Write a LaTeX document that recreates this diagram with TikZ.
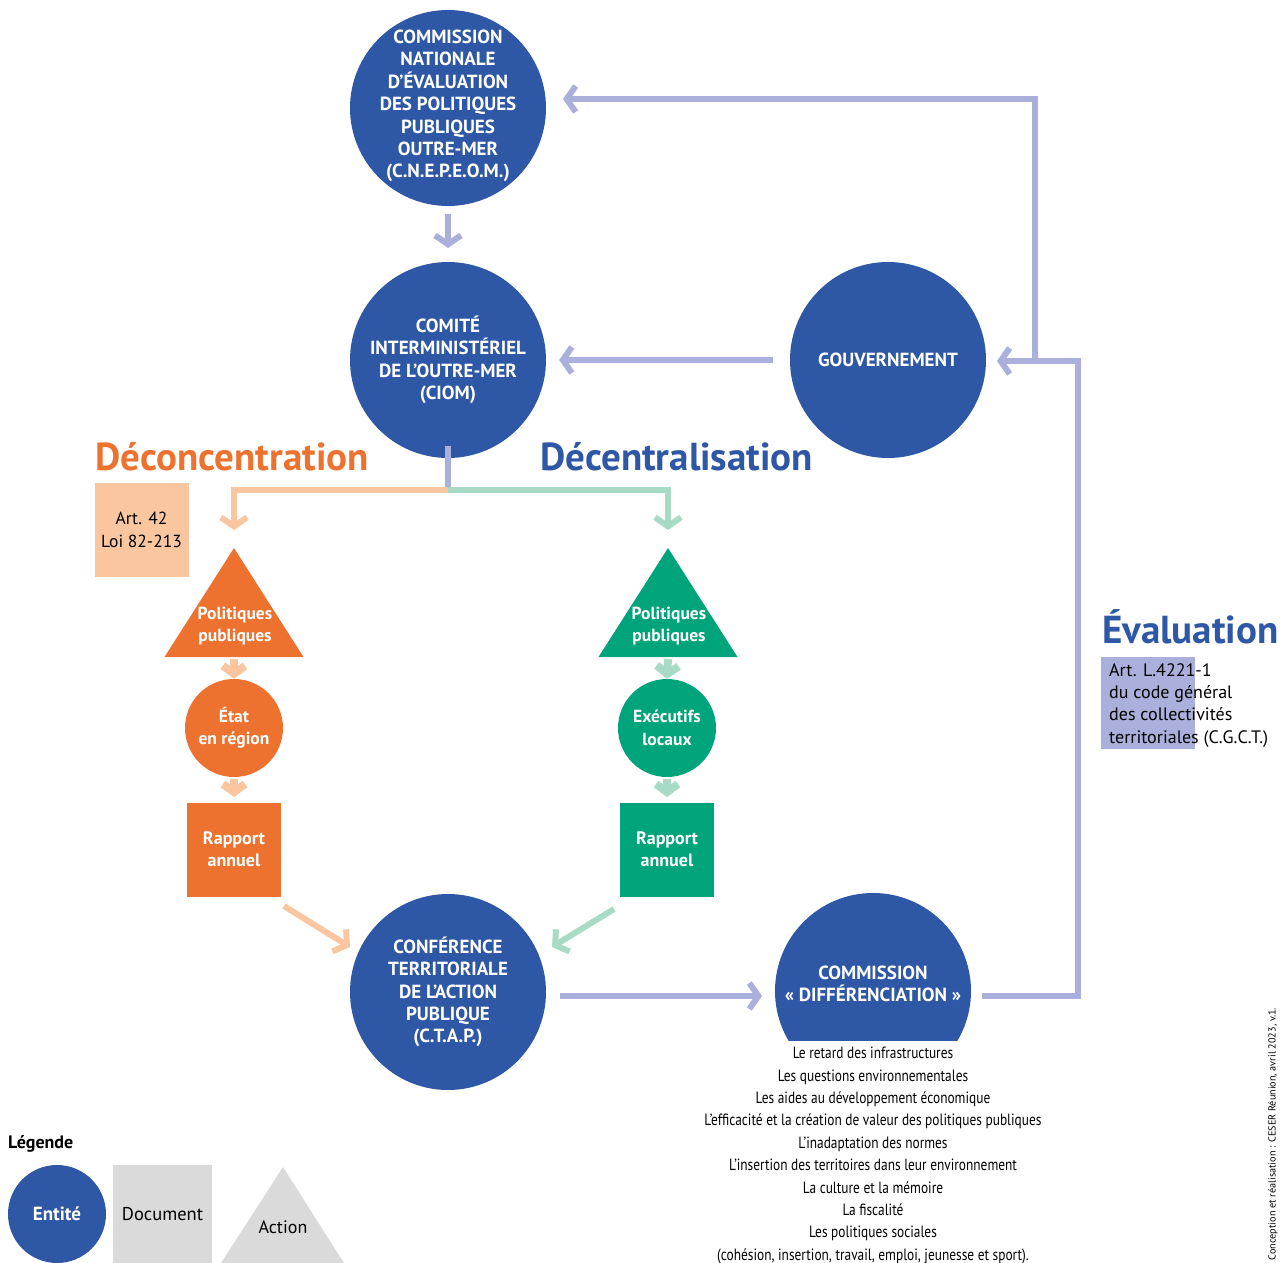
\documentclass[tikz,border=0pt]{standalone}
\usepackage{fontspec}
\setmainfont{PT Sans}
\newfontfamily\condfont[FakeStretch=0.82]{PT Sans}
\usetikzlibrary{arrows.meta}
\definecolor{cblue}{HTML}{2E58A5}
\definecolor{corange}{HTML}{ED7230}
\definecolor{cgreen}{HTML}{00A47A}
\definecolor{lorange}{HTML}{F9C6A0}
\definecolor{lgreen}{HTML}{A7DBC5}
\definecolor{lav}{HTML}{AAB0DB}
\definecolor{lgrey}{HTML}{DADADA}
\begin{document}
\begin{tikzpicture}[x=1pt,y=-1pt,
  entity/.style={circle, fill=cblue, minimum size=196pt, inner sep=0pt, text=white,
    font=\bfseries\fontsize{19}{22.4}\selectfont, align=center},
  ctext/.style={inner sep=0pt, text=white, font=\bfseries\fontsize{19}{22.4}\selectfont, align=center},
  smallent/.style={circle, minimum size=98pt, inner sep=0pt, text=white,
    font=\bfseries\fontsize{17.5}{22.4}\selectfont, align=center},
  docbox/.style={minimum width=94pt, minimum height=94pt, inner sep=0pt, text=white,
    font=\bfseries\fontsize{18}{22.4}\selectfont, align=center},
  wtext/.style={text=white, font=\bfseries\fontsize{17.5}{22.4}\selectfont, align=center, inner sep=0pt},
  conn/.style={line width=6pt, draw=lav, -{Straight Barb[length=9pt,width=26pt]}},
  plain/.style={line width=6pt, draw=lav},
  shortarr/.style={line width=8pt, -{Straight Barb[length=8pt,width=22pt]}},
  title/.style={font=\bfseries\fontsize{39}{42}\selectfont, anchor=west, inner sep=0pt}
]
\useasboundingbox (0,0) rectangle (1280,1263);

% main entities
\node[entity] (cnep) at (448,108) {};
\node[ctext] (cneptext) at (448,106) {COMMISSION\\NATIONALE\\D'ÉVALUATION\\DES POLITIQUES\\PUBLIQUES\\OUTRE-MER\\(C.N.E.P.E.O.M.)};
\node[entity] (ciom) at (448,360) {};
\node[ctext] (ciomtext) at (448,360) {COMITÉ\\INTERMINISTÉRIEL\\DE L’OUTRE-MER\\(CIOM)};
\node[entity] (gouv) at (888,360) {};
\node[ctext] (gouvtext) at (888,360) {GOUVERNEMENT};
\node[entity] (ctap) at (448,992) {};
\node[ctext] (ctaptext) at (448,992) {CONFÉRENCE\\TERRITORIALE\\DE L’ACTION\\PUBLIQUE\\(C.T.A.P.)};
\begin{scope}
  \clip (700,880) rectangle (1050,1040);
  \node[entity] (diff) at (873,991) {};
\end{scope}
\node[ctext] (difft) at (873,984) {COMMISSION\\« DIFFÉRENCIATION »};

% titles
\node[title, text=corange] (decon) at (95,457) {Déconcentration};
\node[title, text=cblue] (decen) at (540,457) {Décentralisation};
\node[title, text=cblue] (eval) at (1102,627) {Évaluation};

% Art 42 box
\node[fill=lorange, minimum width=94pt, minimum height=94pt, inner sep=0pt,
  font=\fontsize{17.5}{22.4}\selectfont, align=center] (art42) at (141.5,530) {Art. 42\\Loi 82-213};

% Évaluation box
\fill[lav] (1101,657) rectangle (1195,749);
\node[anchor=north west, inner sep=0pt, align=left, font=\fontsize{18}{22.4}\selectfont] (artL) at (1109,663)
  {Art. L.4221-1\\du code général\\des collectivités\\territoriales (C.G.C.T.)};

% triangles
\fill[corange] (234,548) -- (303.5,657) -- (164.5,657) -- cycle;
\node[wtext] (polo) at (235,626) {Politiques\\publiques};
\coordinate (triOtop) at (234,530);
\coordinate (triObot) at (234,659);
\fill[cgreen] (668,548) -- (737.5,657) -- (598.5,657) -- cycle;
\node[wtext] (polg) at (669,626) {Politiques\\publiques};
\coordinate (triGtop) at (668,530);
\coordinate (triGbot) at (668,659);

% small entities
\node[smallent, fill=corange] (etat) at (234,728) {État\\en région};
\node[smallent, fill=cgreen] (exec) at (667,728) {Exécutifs\\locaux};

% rapports
\node[docbox, fill=corange] (rapo) at (234,849.5) {Rapport\\annuel};
\node[docbox, fill=cgreen] (rapg) at (667,849.5) {Rapport\\annuel};

% connectors
\draw[conn] (cnep.south) ++(0,8) -- (448,248);
\draw[conn] ([xshift=-17pt]gouv.west) -- ([xshift=13pt]ciom.east);
\coordinate (split) at (448,490);
\draw[plain] ([yshift=12pt]ciom.south) -- (split);
\draw[line width=6pt, draw=lorange, -{Straight Barb[length=9pt,width=26pt]}] (split) -| (triOtop);
\draw[line width=6pt, draw=lgreen, -{Straight Barb[length=9pt,width=26pt]}] (split) -| (triGtop);
\draw[shortarr, draw=lorange] (triObot) -- (etat.north);
\draw[shortarr, draw=lorange] (etat.south) ++(0,2) -- (234,797);
\draw[shortarr, draw=lgreen] (triGbot) -- (exec.north);
\draw[shortarr, draw=lgreen] (exec.south) ++(0,2) -- (667,797);
\draw[line width=6pt, draw=lorange, -{Straight Barb[length=9pt,width=26pt]}] (284,906) -- (350,947);
\draw[line width=6pt, draw=lgreen, -{Straight Barb[length=9pt,width=26pt]}] (614,909) -- (552,947);
\draw[conn] (560,996) -- (762,996);
\coordinate (fbA) at (1078,996);
\coordinate (fbB) at (1078,361);
\coordinate (fbC) at (1035,361);
\coordinate (fbD) at (1035,99);
\draw[plain, line join=miter] (982,996) -- (fbA) -- (fbB) -- (fbC);
\draw[conn] (fbB) -- (997,361);
\draw[conn, line join=miter] (fbC) -- (fbD) -- (563,99);

% list
\node[inner sep=0pt, align=center, anchor=north, font=\condfont\fontsize{16.3}{22.4}\selectfont] (list) at (873,1047)
{Le retard des infrastructures\\
Les questions environnementales\\
Les aides au développement économique\\
L’efficacité et la création de valeur des politiques publiques\\
L’inadaptation des normes\\
L’insertion des territoires dans leur environnement\\
La culture et la mémoire\\
La fiscalité\\
Les politiques sociales\\
(cohésion, insertion, travail, emploi, jeunesse et sport).};

% credit
\node[rotate=90, inner sep=0pt, font=\fontsize{10.2}{12}\selectfont] (credit) at (1273,1134)
{Conception et réalisation : CESER Réunion, avril 2023, v.1.};

% legend
\node[anchor=west, inner sep=0pt, font=\bfseries\fontsize{18}{20}\selectfont] (leg) at (8,1144) {Légende};
\node[smallent, fill=cblue, font=\bfseries\fontsize{19}{22}\selectfont] (lent) at (57,1214) {Entité};
\node[fill=lgrey, minimum width=99pt, minimum height=99pt, inner sep=0pt,
  font=\fontsize{18.5}{20}\selectfont] (ldoc) at (162.5,1214.5) {Document};
\fill[lgrey] (283,1167) -- (344,1263) -- (221,1263) -- cycle;
\node[inner sep=0pt, font=\fontsize{18}{20}\selectfont] (lact) at (283,1227) {Action};
\end{tikzpicture}
\end{document}
